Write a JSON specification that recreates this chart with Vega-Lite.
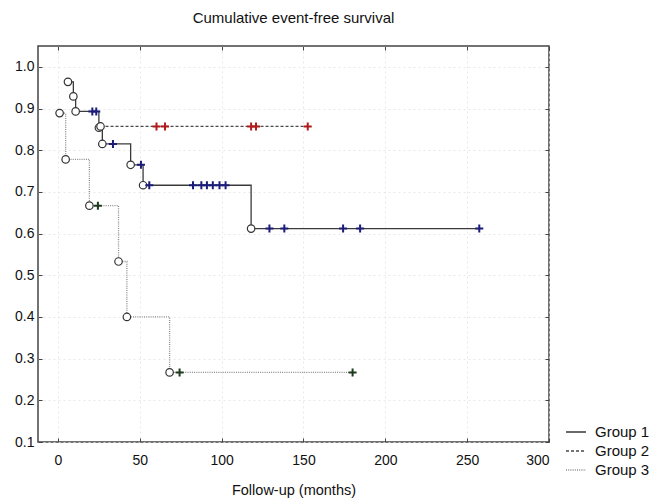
{
  "$schema": "https://vega.github.io/schema/vega-lite/v6.json",
  "width": 511,
  "height": 396,
  "autosize": "none",
  "padding": {"left": 38, "top": 46, "right": 103, "bottom": 56},
  "background": "white",
  "title": {"text": "Cumulative event-free survival", "font": "Liberation Sans", "fontSize": 15, "fontWeight": "normal", "color": "#111111", "anchor": "middle", "offset": 20},
  "config": {
    "view": {"stroke": "#444444", "strokeWidth": 1.5},
    "axis": {
      "labelFont": "Liberation Sans", "labelFontSize": 14, "labelColor": "#111111",
      "titleFont": "Liberation Sans", "titleFontSize": 14.5, "titleFontWeight": "normal", "titleColor": "#111111",
      "domain": false, "tickColor": "#444444", "tickSize": -4, "tickWidth": 1,
      "gridColor": "#e2e2e2", "gridDash": [2, 3], "gridWidth": 0.8
    },
    "legend": {"labelFont": "Liberation Sans", "labelFontSize": 15, "labelColor": "#111111"}
  },
  "data": {"values": [
    {"group": "Group 1", "t": 6.1, "s": 0.964, "type": "event"},
    {"group": "Group 1", "t": 9.4, "s": 0.929, "type": "event"},
    {"group": "Group 1", "t": 10.8, "s": 0.893, "type": "event"},
    {"group": "Group 1", "t": 21.0, "s": 0.893, "type": "censored"},
    {"group": "Group 1", "t": 23.4, "s": 0.893, "type": "censored"},
    {"group": "Group 1", "t": 25.0, "s": 0.854, "type": "event"},
    {"group": "Group 1", "t": 27.1, "s": 0.815, "type": "event"},
    {"group": "Group 1", "t": 33.6, "s": 0.815, "type": "censored"},
    {"group": "Group 1", "t": 44.4, "s": 0.765, "type": "event"},
    {"group": "Group 1", "t": 50.7, "s": 0.765, "type": "censored"},
    {"group": "Group 1", "t": 52.0, "s": 0.716, "type": "event"},
    {"group": "Group 1", "t": 55.8, "s": 0.716, "type": "censored"},
    {"group": "Group 1", "t": 82.5, "s": 0.716, "type": "censored"},
    {"group": "Group 1", "t": 87.6, "s": 0.716, "type": "censored"},
    {"group": "Group 1", "t": 91.0, "s": 0.716, "type": "censored"},
    {"group": "Group 1", "t": 94.6, "s": 0.716, "type": "censored"},
    {"group": "Group 1", "t": 98.7, "s": 0.716, "type": "censored"},
    {"group": "Group 1", "t": 102.4, "s": 0.716, "type": "censored"},
    {"group": "Group 1", "t": 118.0, "s": 0.612, "type": "event"},
    {"group": "Group 1", "t": 129.2, "s": 0.612, "type": "censored"},
    {"group": "Group 1", "t": 138.3, "s": 0.612, "type": "censored"},
    {"group": "Group 1", "t": 174.2, "s": 0.612, "type": "censored"},
    {"group": "Group 1", "t": 184.6, "s": 0.612, "type": "censored"},
    {"group": "Group 1", "t": 257.4, "s": 0.612, "type": "censored"},
    {"group": "Group 2", "t": 26.0, "s": 0.857, "type": "event"},
    {"group": "Group 2", "t": 60.2, "s": 0.857, "type": "censored"},
    {"group": "Group 2", "t": 65.4, "s": 0.857, "type": "censored"},
    {"group": "Group 2", "t": 118.0, "s": 0.857, "type": "censored"},
    {"group": "Group 2", "t": 121.0, "s": 0.857, "type": "censored"},
    {"group": "Group 2", "t": 152.6, "s": 0.857, "type": "censored"},
    {"group": "Group 3", "t": 1.0, "s": 0.889, "type": "event"},
    {"group": "Group 3", "t": 4.7, "s": 0.778, "type": "event"},
    {"group": "Group 3", "t": 19.2, "s": 0.667, "type": "event"},
    {"group": "Group 3", "t": 24.4, "s": 0.667, "type": "censored"},
    {"group": "Group 3", "t": 37.0, "s": 0.533, "type": "event"},
    {"group": "Group 3", "t": 42.1, "s": 0.4, "type": "event"},
    {"group": "Group 3", "t": 68.2, "s": 0.267, "type": "event"},
    {"group": "Group 3", "t": 74.3, "s": 0.267, "type": "censored"},
    {"group": "Group 3", "t": 180.0, "s": 0.267, "type": "censored"}
  ]},
  "resolve": {"axis": {"x": "independent", "y": "independent"}},
  "layer": [
    {
      "mark": {"type": "line", "interpolate": "step-after", "strokeWidth": 1.3},
      "encoding": {
        "x": {"field": "t", "type": "quantitative", "scale": {"domain": [-12.2, 300], "nice": false, "zero": false},
              "axis": {"values": [0, 50, 100, 150, 200, 250, 300], "title": "Follow-up (months)", "labelPadding": 15, "titlePadding": 16, "grid": true}},
        "y": {"field": "s", "type": "quantitative", "scale": {"domain": [0.1, 1.05], "nice": false, "zero": false},
              "axis": {"values": [0.1, 0.2, 0.3, 0.4, 0.5, 0.6, 0.7, 0.8, 0.9, 1.0], "format": ".1f", "title": null, "labelPadding": 8, "grid": true}},
        "color": {"field": "group", "type": "nominal", "title": null,
                  "scale": {"domain": ["Group 1", "Group 2", "Group 3"], "range": ["#3a3a3a", "#4a4a4a", "#8a8a8a"]},
                  "legend": {"orient": "none", "legendX": 527, "legendY": 375, "symbolType": "stroke", "symbolSize": 400, "symbolStrokeWidth": 1.5, "rowPadding": -8, "padding": 0, "labelOffset": 8}},
        "strokeDash": {"field": "group", "type": "nominal", "title": null,
                  "scale": {"domain": ["Group 1", "Group 2", "Group 3"], "range": [[1, 0], [3, 2], [1, 1.2]]},
                  "legend": {"orient": "none", "legendX": 527, "legendY": 375, "symbolType": "stroke", "symbolSize": 400, "symbolStrokeWidth": 1.5, "rowPadding": -8, "padding": 0, "labelOffset": 8}},
        "order": {"field": "t", "type": "quantitative"}
      }
    },
    {
      "transform": [{"filter": "datum.type === 'event'"}],
      "mark": {"type": "point", "shape": "circle", "filled": true, "fill": "white", "stroke": "#333333", "strokeWidth": 1.2, "size": 56, "opacity": 1},
      "encoding": {
        "x": {"field": "t", "type": "quantitative", "axis": null},
        "y": {"field": "s", "type": "quantitative", "axis": null}
      }
    },
    {
      "transform": [{"filter": "datum.type === 'censored'"}],
      "mark": {"type": "point", "shape": "M -1 0 L 1 0 M 0 -1 L 0 1", "filled": false, "strokeWidth": 2, "size": 64, "opacity": 1},
      "encoding": {
        "x": {"field": "t", "type": "quantitative", "axis": {"orient": "top", "labels": false, "grid": false, "title": null, "values": [0, 50, 100, 150, 200, 250, 300]}},
        "y": {"field": "s", "type": "quantitative", "axis": {"orient": "right", "labels": false, "grid": false, "title": null, "values": [0.1, 0.2, 0.3, 0.4, 0.5, 0.6, 0.7, 0.8, 0.9, 1.0]}},
        "stroke": {"field": "group", "type": "nominal", "legend": null,
                   "scale": {"domain": ["Group 1", "Group 2", "Group 3"], "range": ["#1c1c7a", "#b01c1c", "#1d3a1d"]}}
      }
    }
  ]
}
